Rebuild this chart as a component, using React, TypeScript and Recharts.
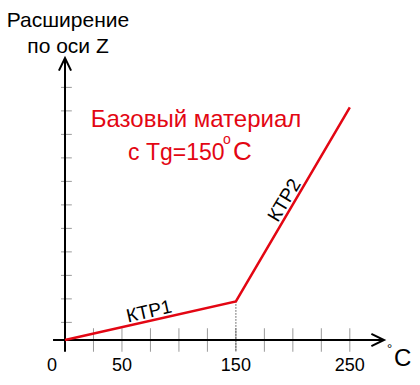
import { LineChart, Line, XAxis, YAxis, ReferenceLine } from 'recharts';

// ── Data ──────────────────────────────────────────────────────
const tempC = [0, 150, 250];
const expansion = [0, 1.64, 9.9];
const xTickValues = [25, 50, 75, 100, 125, 150, 175, 200, 225, 250];
const xTickLabels = [0, 50, 150, 250];
const yTickValues = [0.75, 1.75, 2.75, 3.75, 4.75, 5.75, 6.75, 7.75, 8.75, 9.75, 10.75];
const glassTemp = 150;

const data = tempC.map((t, i) => ({ t, z: expansion[i] }));

const RED = '#e30613';
const FONT = '"Liberation Sans", Arial, sans-serif';

// ── Axis with open arrow head ─────────────────────────────────
function ArrowShape(p: any) {
  const { x1, y1, x2, y2 } = p;
  const ang = Math.atan2(y2 - y1, x2 - x1);
  const L = 14;
  const a = 0.45;
  const ax = x2 - L * Math.cos(ang - a);
  const ay = y2 - L * Math.sin(ang - a);
  const bx = x2 - L * Math.cos(ang + a);
  const by = y2 - L * Math.sin(ang + a);
  return (
    <g>
      <line x1={x1} y1={y1} x2={x2} y2={y2} stroke="#000" strokeWidth={2} />
      <polyline points={`${ax},${ay} ${x2},${y2} ${bx},${by}`} fill="none" stroke="#000" strokeWidth={2} />
    </g>
  );
}

function XTick(props: any) {
  const { x, y, payload } = props;
  return (
    <text x={x + (payload.value === 0 ? -13 : 0)} y={y} dy={31} textAnchor="middle" fontSize={18} fill="#000" fontFamily={FONT}>
      {payload.value}
    </text>
  );
}

export default function App() {
  return (
    <div style={{ position: 'absolute', left: 0, top: 0, width: 420, height: 385, background: '#fff' }}>
      <LineChart width={420} height={385} data={data} margin={{ top: 58, right: 36, bottom: 0, left: 65 }}>
        <XAxis
          dataKey="t"
          type="number"
          domain={[0, 280]}
          ticks={xTickLabels}
          axisLine={false}
          tickLine={false}
          tickSize={0}
          tickMargin={0}
          height={45}
          tick={<XTick />}
          interval={0}
        />
        <YAxis type="number" domain={[0, 12]} hide />

        {/* ticks */}
        {xTickValues.map(v => (
          <ReferenceLine key={`xt${v}`} segment={[{ x: v, y: -0.5 }, { x: v, y: 0.5 }]} stroke="#9a9a9a" strokeWidth={1} ifOverflow="visible" />
        ))}
        {yTickValues.map(v => (
          <ReferenceLine key={`yt${v}`} segment={[{ x: -3.5, y: v }, { x: 6, y: v }]} stroke="#9a9a9a" strokeWidth={1} ifOverflow="visible" />
        ))}

        {/* Tg drop line */}
        <ReferenceLine
          segment={[{ x: glassTemp, y: expansion[1] }, { x: glassTemp, y: -0.5 }]}
          stroke="#000"
          strokeWidth={1}
          strokeDasharray="1 2"
          ifOverflow="visible"
        />

        {/* axes */}
        <ReferenceLine segment={[{ x: -10.5, y: 0 }, { x: 280, y: 0 }]} ifOverflow="visible" shape={ArrowShape} />
        <ReferenceLine segment={[{ x: 0, y: -0.5 }, { x: 0, y: 12 }]} ifOverflow="visible" shape={ArrowShape} />

        <Line dataKey="z" type="linear" stroke={RED} strokeWidth={2.5} dot={false} isAnimationActive={false} />
      </LineChart>

      <svg width={420} height={385} style={{ position: 'absolute', left: 0, top: 0, pointerEvents: 'none' }} fontFamily={FONT}>
        <text x={68} y={27} fontSize={21} textAnchor="middle" fill="#000">Расширение</text>
        <text x={68} y={53} fontSize={21} textAnchor="middle" fill="#000">по оси Z</text>

        <text x={196} y={127} fontSize={24} textAnchor="middle" fill={RED}>Базовый материал</text>
        <text x={128} y={160} fontSize={23} fill={RED}>с Tg=150</text>
        <text x={223} y={144} fontSize={14} fill={RED}>o</text>
        <text x={233} y={160} fontSize={26} fill={RED}>C</text>

        <text x={149} y={311} fontSize={19} textAnchor="middle" dominantBaseline="central" fill="#000" transform="rotate(-12.8 149 311)">КТР1</text>
        <text x={284} y={200} fontSize={19} textAnchor="middle" dominantBaseline="central" fill="#000" transform="rotate(-59 284 200)">КТР2</text>

        <text x={387} y={353} fontSize={13} fill="#000">°</text>
        <text x={394} y={366} fontSize={24} fill="#000">C</text>
      </svg>
    </div>
  );
}
